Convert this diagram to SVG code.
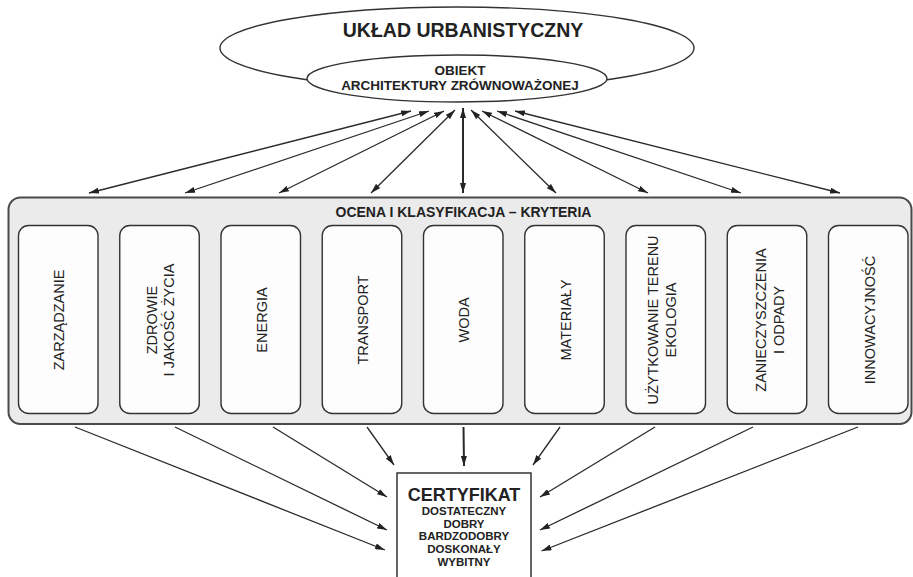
<svg xmlns="http://www.w3.org/2000/svg" width="913" height="577" viewBox="0 0 913 577">
  <style>
    .ln { stroke: #2a2a2a; stroke-width: 1.3; fill: none; }
    .thick { stroke-width: 2; }
    .panel { fill: #ebebeb; stroke: #4a4a4a; stroke-width: 2; }
    .crit { fill: #fdfdfd; stroke: #333; stroke-width: 1.4; }
    .ell { fill: #fff; stroke: #333; stroke-width: 1.4; }
    .b { font-family: "Liberation Sans", Arial, sans-serif; font-weight: bold; fill: #222; text-anchor: middle; }
    .r { font-family: "Liberation Sans", Arial, sans-serif; font-size: 14.5px; fill: #222; text-anchor: middle; }
  </style>
  <defs>
    <marker id="ah" viewBox="0 0 10 6" refX="10" refY="3" markerWidth="10" markerHeight="6" markerUnits="userSpaceOnUse" orient="auto-start-reverse">
      <path d="M0,0 L10,3 L0,6 Z" fill="#222"/>
    </marker>
  </defs>

  <!-- urban layout with the sustainable building inside -->
  <g id="uklad">
    <ellipse class="ell" cx="457" cy="48" rx="237" ry="41"/>
    <text class="b" x="463" y="36.5" font-size="19.5">UKŁAD URBANISTYCZNY</text>
  </g>
  <g id="obiekt">
    <ellipse class="ell" cx="457" cy="78.5" rx="150" ry="23.5"/>
    <text class="b" x="460" y="75" font-size="13.5">OBIEKT</text>
    <text class="b" x="460" y="89.5" font-size="13.5">ARCHITEKTURY ZRÓWNOWAŻONEJ</text>
  </g>

  <!-- assessment panel -->
  <g id="ocena">
    <rect class="panel" x="8.5" y="197.5" width="903" height="226.5" rx="12"/>
    <text class="b" x="463.5" y="216.7" font-size="14">OCENA I KLASYFIKACJA – KRYTERIA</text>
  </g>

  <g id="zarzadzanie">
    <rect class="crit" x="18.5" y="225.5" width="79.5" height="188" rx="10"/>
    <text class="r" transform="translate(58.2,320) rotate(-90)" y="6">ZARZĄDZANIE</text>
  </g>
  <g id="zdrowie">
    <rect class="crit" x="119.75" y="225.5" width="79.5" height="188" rx="10"/>
    <text class="r" transform="translate(159.5,320) rotate(-90)"><tspan x="0" y="-3">ZDROWIE</tspan><tspan x="0" y="14">I JAKOŚĆ ŻYCIA</tspan></text>
  </g>
  <g id="energia">
    <rect class="crit" x="221" y="225.5" width="79.5" height="188" rx="10"/>
    <text class="r" transform="translate(260.7,320) rotate(-90)" y="6">ENERGIA</text>
  </g>
  <g id="transport">
    <rect class="crit" x="322.25" y="225.5" width="79.5" height="188" rx="10"/>
    <text class="r" transform="translate(362,320) rotate(-90)" y="6">TRANSPORT</text>
  </g>
  <g id="woda">
    <rect class="crit" x="423.5" y="225.5" width="79.5" height="188" rx="10"/>
    <text class="r" transform="translate(463.2,320) rotate(-90)" y="6">WODA</text>
  </g>
  <g id="materialy">
    <rect class="crit" x="524.75" y="225.5" width="79.5" height="188" rx="10"/>
    <text class="r" transform="translate(564.5,320) rotate(-90)" y="6">MATERIAŁY</text>
  </g>
  <g id="uzytkowanie">
    <rect class="crit" x="626" y="225.5" width="79.5" height="188" rx="10"/>
    <text class="r" transform="translate(665.7,320) rotate(-90)"><tspan x="0" y="-7.5">UŻYTKOWANIE TERENU</tspan><tspan x="0" y="10">EKOLOGIA</tspan></text>
  </g>
  <g id="zanieczyszczenia">
    <rect class="crit" x="727.25" y="225.5" width="79.5" height="188" rx="10"/>
    <text class="r" transform="translate(767,320) rotate(-90)"><tspan x="0" y="-1.5">ZANIECZYSZCZENIA</tspan><tspan x="0" y="16.5">I ODPADY</tspan></text>
  </g>
  <g id="innowacyjnosc">
    <rect class="crit" x="828.5" y="225.5" width="79.5" height="188" rx="10"/>
    <text class="r" transform="translate(868.2,320) rotate(-90)" y="6.5">INNOWACYJNOŚĆ</text>
  </g>

  <!-- certificate, open at the bottom edge -->
  <g id="certyfikat">
    <path d="M397,577 V473 H531 V577" fill="#fff" stroke="#333" stroke-width="1.5"/>
    <text class="b" x="464" y="501" font-size="18">CERTYFIKAT</text>
    <text class="b" x="464" y="515" font-size="11.5">DOSTATECZNY</text>
    <text class="b" x="464" y="527.7" font-size="11.5">DOBRY</text>
    <text class="b" x="464" y="540.4" font-size="11.5">BARDZODOBRY</text>
    <text class="b" x="464" y="553.1" font-size="11.5">DOSKONAŁY</text>
    <text class="b" x="464" y="565.8" font-size="11.5">WYBITNY</text>
  </g>

  <!-- connectors -->
  <g id="connectors">
    <!-- two-way links between building and criteria panel -->
    <g marker-start="url(#ah)" marker-end="url(#ah)">
      <path class="ln" d="M411,111 L89,193"/>
      <path class="ln" d="M429,111 L185,193"/>
      <path class="ln" d="M444,111 L279,193"/>
      <path class="ln" d="M455,110 L371,193"/>
      <path class="ln thick" d="M463,108 L463,193"/>
      <path class="ln" d="M471,110 L556,193"/>
      <path class="ln" d="M482,111 L648,193"/>
      <path class="ln" d="M497,111 L741,193"/>
      <path class="ln" d="M515,111 L840,193"/>
    </g>
    <!-- criteria feeding the certificate -->
    <g marker-end="url(#ah)">
      <path class="ln" d="M75,427 L385,550"/>
      <path class="ln" d="M175,427 L387,530"/>
      <path class="ln" d="M273,427 L387,497"/>
      <path class="ln" d="M367,427 L394,465"/>
      <path class="ln thick" d="M463.5,427 L464,466"/>
      <path class="ln" d="M560,427 L533,465"/>
      <path class="ln" d="M655,427 L540,497"/>
      <path class="ln" d="M753,427 L540,530"/>
      <path class="ln" d="M858,427 L541.5,551"/>
    </g>
  </g>
</svg>
